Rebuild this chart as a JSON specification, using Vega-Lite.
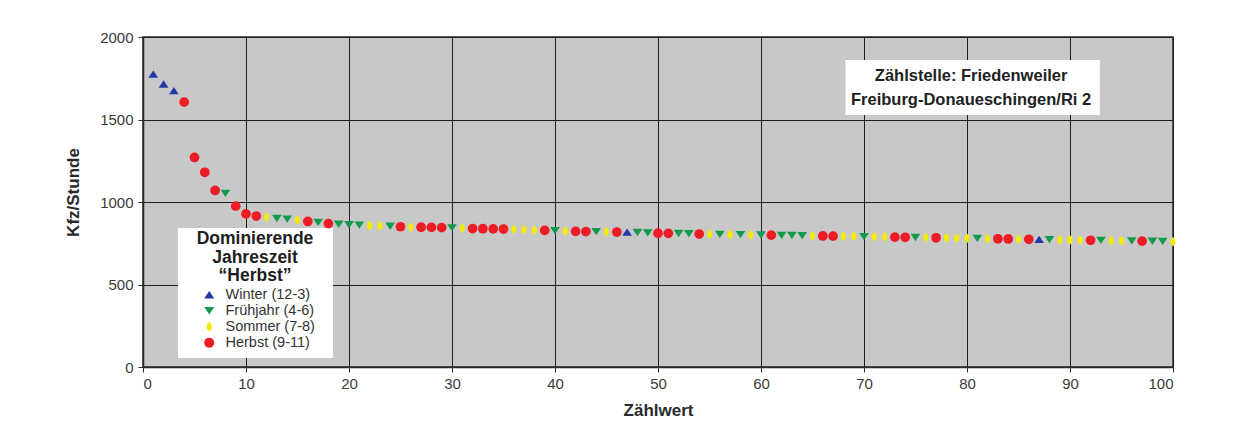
{
  "$schema": "https://vega.github.io/schema/vega-lite/v6.json",
  "autosize": {"type": "none"},
  "width": 1030,
  "height": 330,
  "padding": {"left": 143, "top": 37, "right": 71, "bottom": 63},
  "background": "white",
  "config": {
    "font": "Liberation Sans",
    "view": {"fill": "#c8c8c8", "stroke": "#2a2a2a", "strokeWidth": 1.5},
    "axis": {
      "grid": true,
      "gridColor": "#1e1e1e",
      "gridWidth": 1,
      "gridOpacity": 1,
      "domainColor": "#2a2a2a",
      "domainWidth": 1.5,
      "tickColor": "#2a2a2a",
      "tickSize": 5,
      "labelFont": "Liberation Sans",
      "labelFontSize": 15,
      "labelColor": "#3a3a3a",
      "titleFont": "Liberation Sans",
      "titleFontSize": 17,
      "titleFontWeight": "bold",
      "titleColor": "#2a2a2a"
    }
  },
  "datasets": {
    "zaehlung": [
      {"rang": 1, "kfz": 1775, "jahreszeit": "Winter (12-3)"},
      {"rang": 2, "kfz": 1715, "jahreszeit": "Winter (12-3)"},
      {"rang": 3, "kfz": 1675, "jahreszeit": "Winter (12-3)"},
      {"rang": 4, "kfz": 1605, "jahreszeit": "Herbst (9-11)"},
      {"rang": 5, "kfz": 1270, "jahreszeit": "Herbst (9-11)"},
      {"rang": 6, "kfz": 1180, "jahreszeit": "Herbst (9-11)"},
      {"rang": 7, "kfz": 1070, "jahreszeit": "Herbst (9-11)"},
      {"rang": 8, "kfz": 1052, "jahreszeit": "Frühjahr (4-6)"},
      {"rang": 9, "kfz": 975, "jahreszeit": "Herbst (9-11)"},
      {"rang": 10, "kfz": 928, "jahreszeit": "Herbst (9-11)"},
      {"rang": 11, "kfz": 915, "jahreszeit": "Herbst (9-11)"},
      {"rang": 12, "kfz": 908, "jahreszeit": "Sommer (7-8)"},
      {"rang": 13, "kfz": 900, "jahreszeit": "Frühjahr (4-6)"},
      {"rang": 14, "kfz": 896, "jahreszeit": "Frühjahr (4-6)"},
      {"rang": 15, "kfz": 892, "jahreszeit": "Sommer (7-8)"},
      {"rang": 16, "kfz": 882, "jahreszeit": "Herbst (9-11)"},
      {"rang": 17, "kfz": 876, "jahreszeit": "Frühjahr (4-6)"},
      {"rang": 18, "kfz": 869, "jahreszeit": "Herbst (9-11)"},
      {"rang": 19, "kfz": 865, "jahreszeit": "Frühjahr (4-6)"},
      {"rang": 20, "kfz": 862, "jahreszeit": "Frühjahr (4-6)"},
      {"rang": 21, "kfz": 860, "jahreszeit": "Frühjahr (4-6)"},
      {"rang": 22, "kfz": 858, "jahreszeit": "Sommer (7-8)"},
      {"rang": 23, "kfz": 856, "jahreszeit": "Sommer (7-8)"},
      {"rang": 24, "kfz": 853, "jahreszeit": "Frühjahr (4-6)"},
      {"rang": 25, "kfz": 850, "jahreszeit": "Herbst (9-11)"},
      {"rang": 26, "kfz": 848, "jahreszeit": "Sommer (7-8)"},
      {"rang": 27, "kfz": 847, "jahreszeit": "Herbst (9-11)"},
      {"rang": 28, "kfz": 846, "jahreszeit": "Herbst (9-11)"},
      {"rang": 29, "kfz": 845, "jahreszeit": "Herbst (9-11)"},
      {"rang": 30, "kfz": 843, "jahreszeit": "Frühjahr (4-6)"},
      {"rang": 31, "kfz": 841, "jahreszeit": "Sommer (7-8)"},
      {"rang": 32, "kfz": 839, "jahreszeit": "Herbst (9-11)"},
      {"rang": 33, "kfz": 838, "jahreszeit": "Herbst (9-11)"},
      {"rang": 34, "kfz": 837, "jahreszeit": "Herbst (9-11)"},
      {"rang": 35, "kfz": 836, "jahreszeit": "Herbst (9-11)"},
      {"rang": 36, "kfz": 834, "jahreszeit": "Sommer (7-8)"},
      {"rang": 37, "kfz": 832, "jahreszeit": "Sommer (7-8)"},
      {"rang": 38, "kfz": 830, "jahreszeit": "Sommer (7-8)"},
      {"rang": 39, "kfz": 828, "jahreszeit": "Herbst (9-11)"},
      {"rang": 40, "kfz": 826, "jahreszeit": "Frühjahr (4-6)"},
      {"rang": 41, "kfz": 824, "jahreszeit": "Sommer (7-8)"},
      {"rang": 42, "kfz": 822, "jahreszeit": "Herbst (9-11)"},
      {"rang": 43, "kfz": 821, "jahreszeit": "Herbst (9-11)"},
      {"rang": 44, "kfz": 820, "jahreszeit": "Frühjahr (4-6)"},
      {"rang": 45, "kfz": 819, "jahreszeit": "Sommer (7-8)"},
      {"rang": 46, "kfz": 818, "jahreszeit": "Herbst (9-11)"},
      {"rang": 47, "kfz": 817, "jahreszeit": "Winter (12-3)"},
      {"rang": 48, "kfz": 815, "jahreszeit": "Frühjahr (4-6)"},
      {"rang": 49, "kfz": 813, "jahreszeit": "Frühjahr (4-6)"},
      {"rang": 50, "kfz": 811, "jahreszeit": "Herbst (9-11)"},
      {"rang": 51, "kfz": 810, "jahreszeit": "Herbst (9-11)"},
      {"rang": 52, "kfz": 809, "jahreszeit": "Frühjahr (4-6)"},
      {"rang": 53, "kfz": 808, "jahreszeit": "Frühjahr (4-6)"},
      {"rang": 54, "kfz": 806, "jahreszeit": "Herbst (9-11)"},
      {"rang": 55, "kfz": 805, "jahreszeit": "Sommer (7-8)"},
      {"rang": 56, "kfz": 804, "jahreszeit": "Frühjahr (4-6)"},
      {"rang": 57, "kfz": 803, "jahreszeit": "Sommer (7-8)"},
      {"rang": 58, "kfz": 802, "jahreszeit": "Frühjahr (4-6)"},
      {"rang": 59, "kfz": 801, "jahreszeit": "Sommer (7-8)"},
      {"rang": 60, "kfz": 800, "jahreszeit": "Frühjahr (4-6)"},
      {"rang": 61, "kfz": 799, "jahreszeit": "Herbst (9-11)"},
      {"rang": 62, "kfz": 798, "jahreszeit": "Frühjahr (4-6)"},
      {"rang": 63, "kfz": 797, "jahreszeit": "Frühjahr (4-6)"},
      {"rang": 64, "kfz": 796, "jahreszeit": "Frühjahr (4-6)"},
      {"rang": 65, "kfz": 795, "jahreszeit": "Sommer (7-8)"},
      {"rang": 66, "kfz": 794, "jahreszeit": "Herbst (9-11)"},
      {"rang": 67, "kfz": 793, "jahreszeit": "Herbst (9-11)"},
      {"rang": 68, "kfz": 792, "jahreszeit": "Sommer (7-8)"},
      {"rang": 69, "kfz": 791, "jahreszeit": "Sommer (7-8)"},
      {"rang": 70, "kfz": 790, "jahreszeit": "Frühjahr (4-6)"},
      {"rang": 71, "kfz": 789, "jahreszeit": "Sommer (7-8)"},
      {"rang": 72, "kfz": 788, "jahreszeit": "Sommer (7-8)"},
      {"rang": 73, "kfz": 787, "jahreszeit": "Herbst (9-11)"},
      {"rang": 74, "kfz": 786, "jahreszeit": "Herbst (9-11)"},
      {"rang": 75, "kfz": 785, "jahreszeit": "Frühjahr (4-6)"},
      {"rang": 76, "kfz": 784, "jahreszeit": "Sommer (7-8)"},
      {"rang": 77, "kfz": 783, "jahreszeit": "Herbst (9-11)"},
      {"rang": 78, "kfz": 782, "jahreszeit": "Sommer (7-8)"},
      {"rang": 79, "kfz": 781, "jahreszeit": "Sommer (7-8)"},
      {"rang": 80, "kfz": 780, "jahreszeit": "Sommer (7-8)"},
      {"rang": 81, "kfz": 779, "jahreszeit": "Frühjahr (4-6)"},
      {"rang": 82, "kfz": 778, "jahreszeit": "Sommer (7-8)"},
      {"rang": 83, "kfz": 777, "jahreszeit": "Herbst (9-11)"},
      {"rang": 84, "kfz": 776, "jahreszeit": "Herbst (9-11)"},
      {"rang": 85, "kfz": 775, "jahreszeit": "Sommer (7-8)"},
      {"rang": 86, "kfz": 774, "jahreszeit": "Herbst (9-11)"},
      {"rang": 87, "kfz": 773, "jahreszeit": "Winter (12-3)"},
      {"rang": 88, "kfz": 772, "jahreszeit": "Frühjahr (4-6)"},
      {"rang": 89, "kfz": 771, "jahreszeit": "Sommer (7-8)"},
      {"rang": 90, "kfz": 770, "jahreszeit": "Sommer (7-8)"},
      {"rang": 91, "kfz": 769, "jahreszeit": "Sommer (7-8)"},
      {"rang": 92, "kfz": 768, "jahreszeit": "Herbst (9-11)"},
      {"rang": 93, "kfz": 767, "jahreszeit": "Frühjahr (4-6)"},
      {"rang": 94, "kfz": 766, "jahreszeit": "Sommer (7-8)"},
      {"rang": 95, "kfz": 765, "jahreszeit": "Sommer (7-8)"},
      {"rang": 96, "kfz": 764, "jahreszeit": "Frühjahr (4-6)"},
      {"rang": 97, "kfz": 763, "jahreszeit": "Herbst (9-11)"},
      {"rang": 98, "kfz": 762, "jahreszeit": "Frühjahr (4-6)"},
      {"rang": 99, "kfz": 761, "jahreszeit": "Frühjahr (4-6)"},
      {"rang": 100, "kfz": 760, "jahreszeit": "Sommer (7-8)"}
    ]
  },
  "layer": [
    {
      "data": {"values": [{}]},
      "mark": {"type": "rect", "fill": "white", "stroke": null},
      "encoding": {
        "x": {"datum": 68.2, "type": "quantitative"},
        "x2": {"datum": 92.9},
        "y": {"datum": 1861, "type": "quantitative"},
        "y2": {"datum": 1527}
      }
    },
    {
      "data": {"values": [{}]},
      "mark": {
        "type": "text",
        "text": ["Zählstelle: Friedenweiler", "Freiburg-Donaueschingen/Ri 2"],
        "font": "Liberation Sans",
        "fontSize": 16.5,
        "fontWeight": "bold",
        "color": "#222222",
        "align": "center",
        "baseline": "middle",
        "lineHeight": 24
      },
      "encoding": {
        "x": {"datum": 80.4, "type": "quantitative"},
        "y": {"datum": 1762, "type": "quantitative"}
      }
    },
    {
      "data": {"values": [{}]},
      "mark": {"type": "rect", "fill": "white", "stroke": null},
      "encoding": {
        "x": {"datum": 3.4, "type": "quantitative"},
        "x2": {"datum": 18.45},
        "y": {"datum": 842, "type": "quantitative"},
        "y2": {"datum": 55}
      }
    },
    {
      "data": {"name": "zaehlung"},
      "mark": {"type": "point", "filled": true, "opacity": 1, "size": 95, "strokeWidth": 0},
      "encoding": {
        "x": {
          "field": "rang",
          "type": "quantitative",
          "title": "Zählwert",
          "scale": {"domain": [0, 100], "nice": false, "zero": true},
          "axis": {
            "values": [0, 10, 20, 30, 40, 50, 60, 70, 80, 90, 100],
            "format": "d",
            "labelPadding": 4,
            "titleY": 43,
            "titleBaseline": "middle"
          }
        },
        "y": {
          "field": "kfz",
          "type": "quantitative",
          "title": "Kfz/Stunde",
          "scale": {"domain": [0, 2000], "nice": false},
          "axis": {
            "values": [0, 500, 1000, 1500, 2000],
            "format": "d",
            "labelPadding": 5,
            "titleX": -70,
            "titleY": 155,
            "titleBaseline": "middle"
          }
        },
        "color": {
          "field": "jahreszeit",
          "type": "nominal",
          "scale": {
            "domain": ["Winter (12-3)", "Frühjahr (4-6)", "Sommer (7-8)", "Herbst (9-11)"],
            "range": ["#2238a6", "#139a4c", "#f4ec00", "#ee1c24"]
          },
          "legend": {
            "title": ["Dominierende", "Jahreszeit", "“Herbst”"],
            "orient": "none",
            "legendX": 52,
            "legendY": 193,
            "padding": 0,
            "titleFont": "Liberation Sans",
            "titleFontSize": 17.5,
            "titleFontWeight": "bold",
            "titleColor": "#1e1e1e",
            "titleLineHeight": 18.5,
            "titleAnchor": "middle",
            "titleAlign": "center",
            "titlePadding": 3,
            "labelFont": "Liberation Sans",
            "labelFontSize": 14.5,
            "labelColor": "#333333",
            "labelOffset": 9,
            "symbolOffset": 7,
            "rowPadding": 1
          }
        },
        "shape": {
          "field": "jahreszeit",
          "type": "nominal",
          "scale": {
            "domain": ["Winter (12-3)", "Frühjahr (4-6)", "Sommer (7-8)", "Herbst (9-11)"],
            "range": [
              "M-1,0.75L0,-0.75L1,0.75Z",
              "M-1,-0.75L0,0.75L1,-0.75Z",
              "M0,-1L0.5,-0.35L0.5,0.35L0,1L-0.5,0.35L-0.5,-0.35Z",
              "circle"
            ]
          },
          "legend": {
            "title": ["Dominierende", "Jahreszeit", "“Herbst”"],
            "orient": "none",
            "legendX": 52,
            "legendY": 193,
            "padding": 0,
            "titleFont": "Liberation Sans",
            "titleFontSize": 17.5,
            "titleFontWeight": "bold",
            "titleColor": "#1e1e1e",
            "titleLineHeight": 18.5,
            "titleAnchor": "middle",
            "titleAlign": "center",
            "titlePadding": 3,
            "labelFont": "Liberation Sans",
            "labelFontSize": 14.5,
            "labelColor": "#333333",
            "labelOffset": 9,
            "symbolOffset": 7,
            "rowPadding": 1
          }
        }
      }
    }
  ]
}
